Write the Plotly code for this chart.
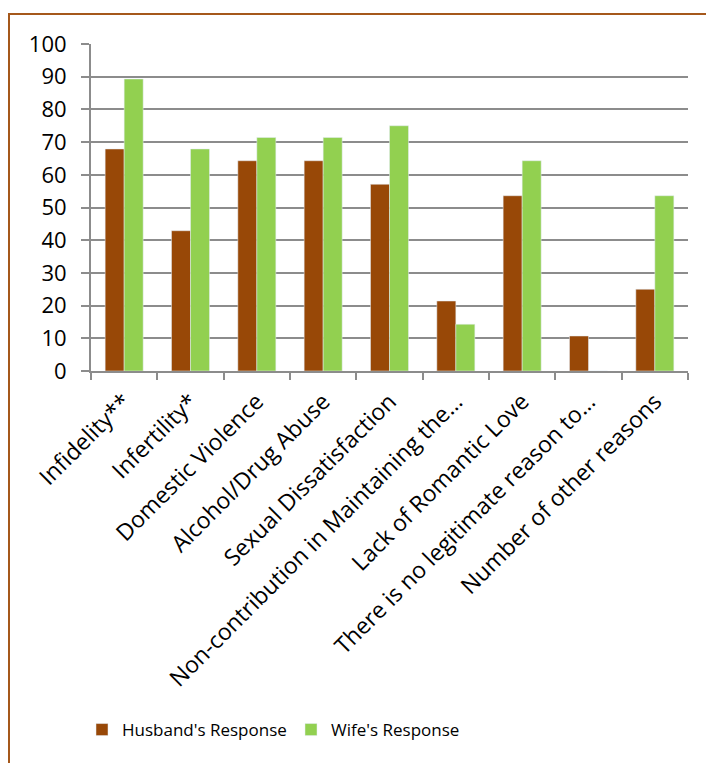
import plotly.graph_objects as go

categories = [
    "Infidelity**",
    "Infertility*",
    "Domestic Violence",
    "Alcohol/Drug Abuse",
    "Sexual Dissatisfaction",
    "Non-contribution in Maintaining the…",
    "Lack of Romantic Love",
    "There is no legitimate reason to…",
    "Number of other reasons",
]
husband = [67.9, 42.9, 64.3, 64.3, 57.1, 21.4, 53.6, 10.7, 25.0]
wife = [89.3, 67.9, 71.4, 71.4, 75.0, 14.3, 64.3, 0.0, 53.6]
y_ticks = list(range(0, 101, 10))

FONT = "Open Sans"
GRID = "#8C8C8C"

fig = go.Figure()
fig.add_trace(go.Bar(x=categories, y=husband, name="Husband's Response",
                     marker=dict(color="#984807")))
fig.add_trace(go.Bar(x=categories, y=wife, name="Wife's Response",
                     marker=dict(color="#92D050")))

W, H = 706, 763
ml, mr, mt, mb = 91, 18, 44, 392
pw = W - ml - mr
ph = H - mt - mb

def px_x(x):
    return (x - ml) / pw

def px_y(y):
    return (H - mb - y) / ph

fig.update_layout(
    width=W, height=H,
    margin=dict(l=ml, r=mr, t=mt, b=mb),
    paper_bgcolor="white", plot_bgcolor="white",
    barmode="group", bargap=0.427, bargroupgap=0,
    font=dict(family=FONT, color="black"),
    showlegend=True,
    legend=dict(orientation="h", x=px_x(82), xanchor="left",
                y=px_y(730), yanchor="middle",
                font=dict(family=FONT, size=17, color="black"),
                entrywidth=164, entrywidthmode="pixels",
                bgcolor="rgba(0,0,0,0)", tracegroupgap=0),
    xaxis=dict(showline=True, linecolor=GRID, linewidth=2,
               ticks="outside", ticklen=7, tickcolor=GRID, tickwidth=2,
               tickson="boundaries", tickangle=-45, ticklabelstandoff=6,
               tickfont=dict(family=FONT, size=23, color="black"),
               showgrid=False),
    yaxis=dict(range=[0, 100], tickvals=y_ticks, showline=True,
               linecolor=GRID, linewidth=2, ticks="outside", ticklen=8,
               tickcolor=GRID, tickwidth=2, showgrid=True, gridcolor=GRID,
               gridwidth=2, zeroline=False, ticklabelstandoff=10,
               tickfont=dict(family=FONT, size=22, color="black")),
    shapes=[dict(type="rect", xref="paper", yref="paper",
                 x0=px_x(9), x1=px_x(740), y0=px_y(800), y1=px_y(14),
                 line=dict(color="#A5581B", width=2), fillcolor="rgba(0,0,0,0)",
                 layer="below")],
)

fig.write_html("out.html")
